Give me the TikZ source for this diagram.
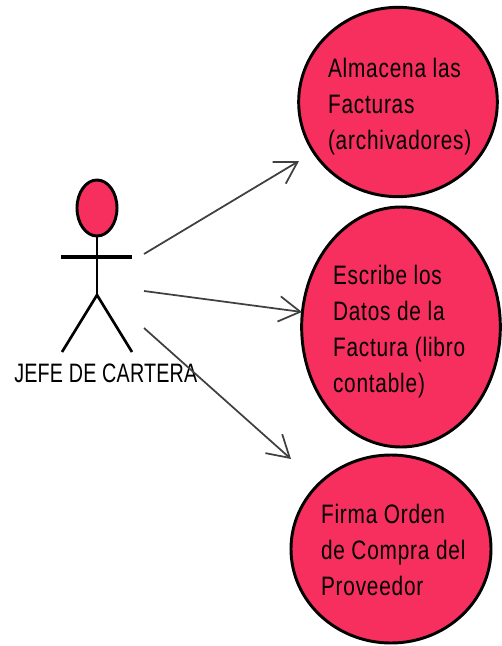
\documentclass[tikz,border=0pt]{standalone}
\usepackage{fontspec}
\setmainfont{Liberation Sans}
\newfontfamily\narrowfont[FakeStretch=0.78,LetterSpace=3]{Liberation Sans}
\newfontfamily\actorfont[FakeStretch=0.74,LetterSpace=0.8]{Liberation Sans}
\usetikzlibrary{arrows.meta,shapes.geometric}
\definecolor{uc}{HTML}{F72F5E}
\tikzset{
 usecase/.style={ellipse,draw=black,line width=2.2pt,fill=uc,inner sep=0pt,outer sep=0pt},
 lbl/.style={anchor=north west,align=left,inner sep=0pt,outer sep=0pt,text=black,font=\narrowfont\fontsize{20}{27}\selectfont},
 assoc/.style={draw=black!75,line width=1.3pt,-{Straight Barb[length=16pt,width=19pt,line width=1.3pt]}},
 stick/.style={draw=black,line width=2pt},
 arms/.style={draw=black,line width=3pt}
}
\begin{document}
\begin{tikzpicture}[x=0.75pt,y=-0.75pt]
\useasboundingbox (0,0) rectangle (502,646);
\fill[white] (0,0) rectangle (502,646);
\node[usecase,minimum width=149pt,minimum height=142pt] (a) at (398,102) {};
\node[usecase,minimum width=149pt,minimum height=180pt] (b) at (401,327) {};
\node[usecase,minimum width=150pt,minimum height=141pt] (c) at (391,549) {};
\node[lbl] (ta) at (328,58) {Almacena las\\Facturas\\(archivadores)};
\node[lbl] (tb) at (333,265) {Escribe los\\Datos de la\\Factura (libro\\contable)};
\node[lbl] (tc) at (321,504) {Firma Orden\\de Compra del\\Proveedor};
\node[ellipse,draw=black,line width=2.2pt,fill=uc,minimum width=30pt,minimum height=42pt,inner sep=0pt,outer sep=0pt] (head) at (97,208) {};
\coordinate (hip) at (97,295);
\coordinate (armL) at (61,257);
\coordinate (armR) at (132,257);
\coordinate (footL) at (62,352);
\coordinate (footR) at (132,352);
\draw[stick] (head.south) -- (hip);
\draw[arms] (armL) -- (armR);
\draw[stick] (footL) -- (hip) -- (footR);
\node[anchor=base west,inner sep=0pt,font=\actorfont\fontsize{20}{20}\selectfont] (actor) at (14,382) {JEFE DE CARTERA};
\coordinate (s1) at (144,254);
\coordinate (e1) at (299,161);
\coordinate (s2) at (144,291);
\coordinate (e2) at (302,312);
\coordinate (s3) at (144,328);
\coordinate (e3) at (291,459);
\draw[assoc] (s1) -- (e1);
\draw[assoc] (s2) -- (e2);
\draw[assoc] (s3) -- (e3);
\end{tikzpicture}
\end{document}
